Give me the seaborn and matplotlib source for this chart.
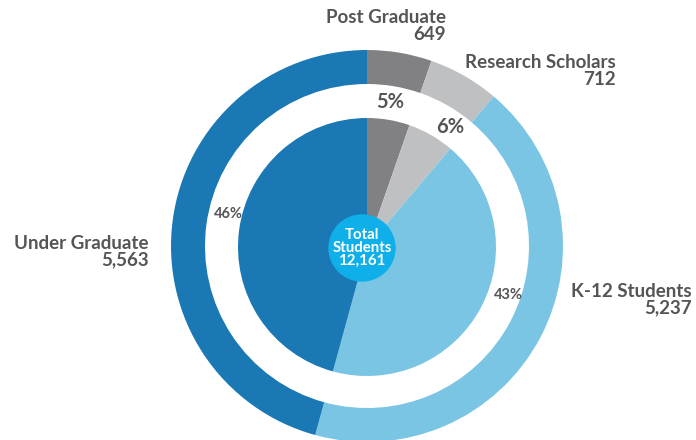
import matplotlib
matplotlib.use("Agg")
import matplotlib.pyplot as plt
import seaborn as sns

# data
categories = ["Post Graduate", "Research Scholars", "K-12 Students", "Under Graduate"]
students = [649, 712, 5237, 5563]
colors = ["#818184", "#bfc0c2", "#7bc5e4", "#1a78b5"]

total = sum(students)
shares = [round(v / total * 100) for v in students]

sns.set_style("white")
plt.rcParams["font.family"] = ["Lato", "DejaVu Sans"]

W, H = 696, 440
fig = plt.figure(figsize=(W / 100, H / 100), dpi=100)
ax = fig.add_axes([0, 0, 1, 1])

def py(y):
    # pixel row (from top) -> data y
    return H - y

cx, cy = 367, py(246)
text_color = "#555557"

# outer ring
ax.pie(students, radius=196, center=(cx, cy), startangle=90, counterclock=False,
       colors=colors, wedgeprops=dict(width=34, edgecolor="none", linewidth=0))
# inner pie
ax.pie(students, radius=129, center=(cx, py(247)), startangle=90, counterclock=False,
       colors=colors, wedgeprops=dict(edgecolor="none", linewidth=0))

# centre badge
ax.add_patch(plt.Circle((362, py(248)), 33, color="#0fb0ea", zorder=5))
ax.text(362, py(248), f"Total\nStudents\n{total:,}", ha="center", va="center",
        color="white", fontsize=10.8, fontweight="bold", linespacing=0.92, zorder=6)

# category labels (right aligned)
label_pos = [(446, 26), (616, 71), (692, 300), (149, 252)]
for name, val, (x, y) in zip(categories, students, label_pos):
    ax.text(x, py(y), f"{name}\n{val:,}", ha="right", va="center", color=text_color,
            fontsize=13.5, fontweight="bold", linespacing=0.95)

# percentage labels
pct_pos = [(390, 102, 14.5), (450, 127, 14.5), (508, 295, 10.5), (228, 214, 10.5)]
for s, (x, y, fs) in zip(shares, pct_pos):
    ax.text(x, py(y), f"{s}%", ha="center", va="center", color=text_color,
            fontsize=fs, fontweight="bold")

ax.set_xlim(0, W)
ax.set_ylim(0, H)
ax.set_aspect("auto")
ax.axis("off")
fig.savefig("out.png", dpi=100)
